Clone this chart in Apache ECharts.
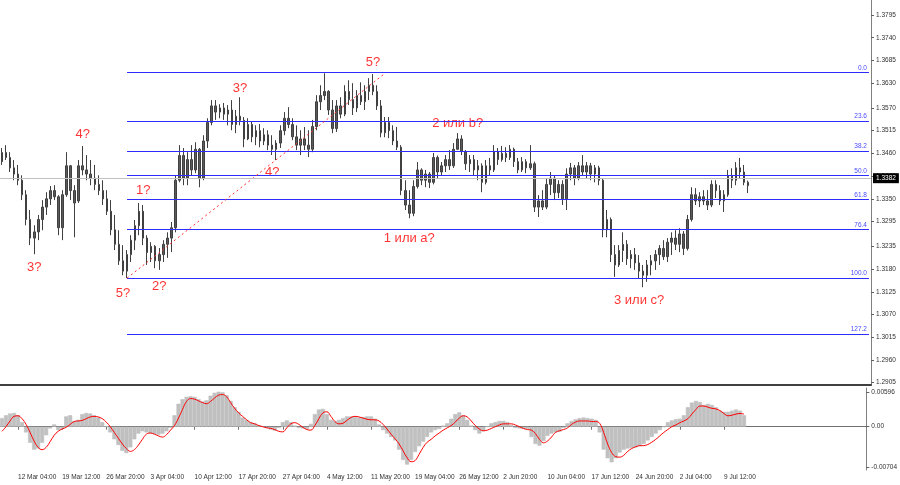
<!DOCTYPE html>
<html lang="ru">
<head>
<meta charset="UTF-8">
<title>GBP/USD H4</title>
<script src="https://cdn.jsdelivr.net/npm/echarts/dist/echarts.min.js"></script>
<style>
    html, body { margin: 0; padding: 0; background: #ffffff; }
    #main { width: 900px; height: 485px; }
</style>
</head>
<body>
<div id="main"></div>
<script>
// 4h bars: [open, close, low, high]
var bars = [
    [1.3440,1.3462,1.3432,1.3473],[1.3462,1.3450,1.3444,1.3480],[1.3450,1.3425,1.3415,1.3463],[1.3425,1.3410,1.3395,1.3444],
    [1.3410,1.3395,1.3383,1.3432],[1.3395,1.3360,1.3347,1.3407],[1.3360,1.3300,1.3286,1.3371],[1.3300,1.3255,1.3238,1.3323],
    [1.3255,1.3270,1.3216,1.3286],[1.3270,1.3300,1.3250,1.3311],[1.3300,1.3330,1.3274,1.3347],[1.3330,1.3350,1.3311,1.3366],
    [1.3350,1.3370,1.3335,1.3381],[1.3370,1.3355,1.3347,1.3383],[1.3355,1.3280,1.3262,1.3359],[1.3280,1.3360,1.3250,1.3371],
    [1.3360,1.3430,1.3355,1.3463],[1.3430,1.3370,1.3347,1.3432],[1.3370,1.3340,1.3257,1.3383],[1.3345,1.3430,1.3340,1.3444],
    [1.3430,1.3420,1.3407,1.3478],[1.3420,1.3410,1.3395,1.3456],[1.3410,1.3400,1.3383,1.3444],[1.3400,1.3385,1.3371,1.3432],
    [1.3385,1.3370,1.3359,1.3407],[1.3370,1.3350,1.3335,1.3395],[1.3350,1.3320,1.3311,1.3371],[1.3320,1.3275,1.3262,1.3347],
    [1.3275,1.3240,1.3226,1.3311],[1.3240,1.3200,1.3190,1.3274],[1.3200,1.3175,1.3165,1.3238],[1.3175,1.3215,1.3158,1.3226],
    [1.3215,1.3250,1.3197,1.3262],[1.3250,1.3285,1.3226,1.3299],[1.3285,1.3320,1.3262,1.3340],[1.3320,1.3255,1.3238,1.3335],
    [1.3255,1.3220,1.3190,1.3262],[1.3220,1.3235,1.3197,1.3245],[1.3235,1.3200,1.3182,1.3238],[1.3200,1.3215,1.3178,1.3231],
    [1.3215,1.3240,1.3197,1.3250],[1.3240,1.3255,1.3207,1.3269],[1.3255,1.3280,1.3221,1.3294],[1.3280,1.3395,1.3269,1.3407],
    [1.3395,1.3455,1.3390,1.3480],[1.3455,1.3400,1.3383,1.3473],[1.3400,1.3445,1.3383,1.3463],[1.3445,1.3420,1.3407,1.3480],
    [1.3420,1.3470,1.3412,1.3487],[1.3470,1.3400,1.3378,1.3473],[1.3400,1.3490,1.3395,1.3504],[1.3490,1.3535,1.3473,1.3545],
    [1.3535,1.3575,1.3528,1.3589],[1.3575,1.3560,1.3541,1.3589],[1.3560,1.3570,1.3545,1.3579],[1.3570,1.3555,1.3541,1.3582],
    [1.3555,1.3565,1.3528,1.3577],[1.3565,1.3530,1.3516,1.3589],[1.3530,1.3550,1.3509,1.3565],[1.3550,1.3540,1.3528,1.3596],
    [1.3540,1.3495,1.3475,1.3548],[1.3495,1.3530,1.3492,1.3545],[1.3530,1.3500,1.3487,1.3536],[1.3500,1.3515,1.3480,1.3528],
    [1.3515,1.3490,1.3475,1.3531],[1.3490,1.3505,1.3480,1.3521],[1.3505,1.3480,1.3468,1.3516],[1.3480,1.3470,1.3456,1.3504],
    [1.3470,1.3485,1.3444,1.3492],[1.3485,1.3515,1.3473,1.3528],[1.3515,1.3545,1.3504,1.3560],[1.3545,1.3530,1.3521,1.3572],
    [1.3530,1.3500,1.3492,1.3545],[1.3500,1.3480,1.3468,1.3528],[1.3480,1.3495,1.3456,1.3516],[1.3495,1.3480,1.3468,1.3524],
    [1.3480,1.3470,1.3451,1.3516],[1.3470,1.3525,1.3463,1.3541],[1.3525,1.3585,1.3516,1.3601],[1.3585,1.3600,1.3565,1.3625],
    [1.3600,1.3610,1.3589,1.3654],[1.3610,1.3565,1.3553,1.3613],[1.3565,1.3520,1.3509,1.3589],[1.3520,1.3575,1.3512,1.3589],
    [1.3575,1.3555,1.3545,1.3596],[1.3555,1.3610,1.3550,1.3625],[1.3610,1.3590,1.3577,1.3637],[1.3590,1.3570,1.3553,1.3630],
    [1.3570,1.3600,1.3560,1.3613],[1.3600,1.3585,1.3577,1.3632],[1.3585,1.3610,1.3565,1.3625],[1.3610,1.3625,1.3589,1.3642],
    [1.3625,1.3610,1.3601,1.3652],[1.3610,1.3575,1.3565,1.3625],[1.3575,1.3510,1.3499,1.3589],[1.3510,1.3535,1.3499,1.3548],
    [1.3535,1.3515,1.3497,1.3548],[1.3515,1.3490,1.3480,1.3528],[1.3490,1.3475,1.3468,1.3524],[1.3475,1.3370,1.3359,1.3480],
    [1.3370,1.3335,1.3323,1.3395],[1.3335,1.3315,1.3303,1.3371],[1.3315,1.3380,1.3308,1.3395],[1.3380,1.3420,1.3375,1.3439],
    [1.3420,1.3395,1.3383,1.3424],[1.3395,1.3410,1.3378,1.3420],[1.3410,1.3390,1.3376,1.3415],[1.3390,1.3450,1.3385,1.3461],
    [1.3450,1.3415,1.3400,1.3455],[1.3415,1.3430,1.3407,1.3439],[1.3430,1.3445,1.3415,1.3456],[1.3445,1.3430,1.3420,1.3468],
    [1.3430,1.3470,1.3425,1.3485],[1.3470,1.3495,1.3468,1.3509],[1.3495,1.3465,1.3456,1.3504],[1.3465,1.3435,1.3420,1.3468],
    [1.3435,1.3445,1.3415,1.3456],[1.3445,1.3420,1.3407,1.3456],[1.3420,1.3430,1.3395,1.3444],[1.3430,1.3390,1.3366,1.3436],
    [1.3390,1.3430,1.3385,1.3444],[1.3430,1.3420,1.3407,1.3449],[1.3420,1.3465,1.3415,1.3480],[1.3465,1.3445,1.3432,1.3473],
    [1.3445,1.3460,1.3440,1.3478],[1.3460,1.3450,1.3439,1.3475],[1.3450,1.3470,1.3444,1.3480],[1.3470,1.3440,1.3427,1.3474],
    [1.3440,1.3420,1.3412,1.3449],[1.3420,1.3440,1.3415,1.3451],[1.3440,1.3425,1.3412,1.3446],[1.3425,1.3435,1.3420,1.3480],
    [1.3435,1.3330,1.3318,1.3440],[1.3330,1.3345,1.3306,1.3359],[1.3345,1.3330,1.3323,1.3371],[1.3330,1.3385,1.3325,1.3400],
    [1.3385,1.3400,1.3359,1.3415],[1.3400,1.3365,1.3347,1.3407],[1.3365,1.3385,1.3352,1.3395],[1.3385,1.3350,1.3335,1.3395],
    [1.3350,1.3410,1.3323,1.3424],[1.3410,1.3425,1.3395,1.3437],[1.3425,1.3400,1.3383,1.3432],[1.3400,1.3430,1.3395,1.3439],
    [1.3430,1.3415,1.3407,1.3456],[1.3415,1.3430,1.3400,1.3439],[1.3430,1.3410,1.3395,1.3437],[1.3410,1.3425,1.3390,1.3432],
    [1.3425,1.3395,1.3383,1.3430],[1.3395,1.3275,1.3257,1.3400],[1.3275,1.3300,1.3257,1.3323],[1.3300,1.3215,1.3197,1.3305],
    [1.3215,1.3190,1.3161,1.3238],[1.3190,1.3225,1.3185,1.3238],[1.3225,1.3240,1.3197,1.3269],[1.3240,1.3205,1.3190,1.3250],
    [1.3205,1.3215,1.3182,1.3226],[1.3215,1.3195,1.3178,1.3231],[1.3195,1.3175,1.3158,1.3214],[1.3175,1.3165,1.3136,1.3190],
    [1.3165,1.3190,1.3149,1.3202],[1.3190,1.3200,1.3165,1.3214],[1.3200,1.3215,1.3178,1.3226],[1.3215,1.3230,1.3190,1.3238],
    [1.3230,1.3210,1.3202,1.3250],[1.3210,1.3245,1.3197,1.3255],[1.3245,1.3255,1.3214,1.3269],[1.3255,1.3240,1.3226,1.3274],
    [1.3240,1.3265,1.3221,1.3279],[1.3265,1.3230,1.3214,1.3272],[1.3230,1.3300,1.3225,1.3311],[1.3300,1.3360,1.3295,1.3378],
    [1.3360,1.3345,1.3335,1.3376],[1.3345,1.3355,1.3330,1.3366],[1.3355,1.3345,1.3335,1.3371],[1.3345,1.3335,1.3323,1.3371],
    [1.3335,1.3385,1.3330,1.3395],[1.3385,1.3370,1.3352,1.3395],[1.3370,1.3345,1.3335,1.3383],[1.3345,1.3360,1.3318,1.3371],
    [1.3360,1.3405,1.3355,1.3420],[1.3405,1.3395,1.3376,1.3424],[1.3395,1.3425,1.3383,1.3439],[1.3425,1.3415,1.3400,1.3449],
    [1.3415,1.3390,1.3383,1.3432],[1.3390,1.3382,1.3364,1.3394]
];

// MACD main (histogram) and signal line
var macd = [
    0.0015,0.0020,0.0023,0.0024,0.0020,0.0008,-0.0010,-0.0028,-0.0040,-0.0038,
    -0.0028,-0.0015,-0.0003,0.0004,-0.0006,-0.0004,0.0018,0.0020,0.0010,0.0012,
    0.0022,0.0024,0.0023,0.0020,0.0016,0.0008,0.0000,-0.0010,-0.0022,-0.0032,
    -0.0042,-0.0046,-0.0036,-0.0022,-0.0012,-0.0008,-0.0010,-0.0012,-0.0013,-0.0014,
    -0.0012,-0.0008,-0.0002,0.0020,0.0040,0.0048,0.0052,0.0053,0.0052,0.0048,
    0.0044,0.0046,0.0054,0.0059,0.0061,0.0060,0.0055,0.0045,0.0034,0.0026,
    0.0016,0.0012,0.0008,0.0006,0.0003,0.0001,-0.0002,-0.0005,-0.0007,-0.0002,
    0.0008,0.0011,0.0008,0.0002,-0.0002,-0.0003,-0.0004,0.0005,0.0022,0.0030,
    0.0031,0.0022,0.0012,0.0010,0.0012,0.0015,0.0018,0.0018,0.0017,0.0016,
    0.0017,0.0018,0.0018,0.0014,0.0004,-0.0006,-0.0012,-0.0018,-0.0024,-0.0040,
    -0.0058,-0.0066,-0.0058,-0.0044,-0.0034,-0.0026,-0.0018,-0.0010,-0.0006,-0.0004,
    0.0002,0.0006,0.0014,0.0022,0.0025,0.0020,0.0012,0.0002,-0.0006,-0.0012,
    -0.0008,0.0000,0.0006,0.0008,0.0010,0.0010,0.0008,0.0003,-0.0002,-0.0003,
    -0.0004,-0.0004,-0.0018,-0.0030,-0.0033,-0.0025,-0.0016,-0.0012,-0.0010,-0.0009,
    -0.0002,0.0006,0.0010,0.0013,0.0015,0.0016,0.0015,0.0014,0.0012,-0.0010,
    -0.0040,-0.0055,-0.0062,-0.0055,-0.0045,-0.0040,-0.0038,-0.0037,-0.0036,-0.0034,
    -0.0030,-0.0024,-0.0018,-0.0012,-0.0006,0.0000,0.0008,0.0011,0.0013,0.0014,
    0.0020,0.0034,0.0042,0.0045,0.0043,0.0038,0.0040,0.0038,0.0034,0.0028,
    0.0026,0.0026,0.0028,0.0030,0.0028,0.0020
];
var signal = [
    -0.0008,0.0000,0.0010,0.0018,0.0019,0.0014,0.0004,-0.0010,-0.0025,-0.0036,
    -0.0040,-0.0036,-0.0026,-0.0015,-0.0008,-0.0004,-0.0001,0.0004,0.0009,0.0010,
    0.0011,0.0014,0.0017,0.0018,0.0017,0.0014,0.0008,0.0000,-0.0010,-0.0020,
    -0.0030,-0.0038,-0.0043,-0.0040,-0.0032,-0.0022,-0.0013,-0.0011,-0.0013,-0.0016,
    -0.0018,-0.0014,-0.0006,0.0002,0.0015,0.0030,0.0044,0.0049,0.0048,0.0045,
    0.0042,0.0040,0.0044,0.0050,0.0055,0.0056,0.0052,0.0042,0.0032,0.0024,
    0.0018,0.0012,0.0007,0.0005,0.0002,0.0000,-0.0002,-0.0003,-0.0005,-0.0008,
    -0.0009,-0.0002,0.0005,0.0007,0.0004,-0.0001,-0.0005,-0.0006,0.0002,0.0014,
    0.0024,0.0026,0.0018,0.0009,0.0005,0.0006,0.0011,0.0016,0.0018,0.0017,
    0.0015,0.0013,0.0012,0.0012,0.0010,0.0004,-0.0004,-0.0013,-0.0021,-0.0030,
    -0.0042,-0.0054,-0.0061,-0.0059,-0.0048,-0.0036,-0.0027,-0.0022,-0.0016,-0.0011,
    -0.0006,-0.0002,0.0002,0.0008,0.0015,0.0019,0.0017,0.0010,0.0002,-0.0004,
    -0.0007,-0.0006,-0.0003,0.0000,0.0003,0.0005,0.0005,0.0005,0.0003,0.0000,
    -0.0003,-0.0005,-0.0006,-0.0012,-0.0022,-0.0028,-0.0025,-0.0018,-0.0010,-0.0007,
    -0.0005,-0.0002,0.0004,0.0008,0.0010,0.0010,0.0010,0.0009,0.0009,0.0006,
    -0.0010,-0.0030,-0.0045,-0.0052,-0.0053,-0.0050,-0.0043,-0.0038,-0.0035,-0.0033,
    -0.0033,-0.0031,-0.0027,-0.0022,-0.0016,-0.0010,-0.0005,0.0000,0.0003,0.0007,
    0.0010,0.0014,0.0022,0.0030,0.0036,0.0036,0.0034,0.0032,0.0031,0.0028,
    0.0023,0.0019,0.0020,0.0022,0.0023,0.0022
];

// axis labels
var priceTicks = [1.2905, 1.2960, 1.3015, 1.3070, 1.3125, 1.3180, 1.3235, 1.3295, 1.3350,
                  1.3405, 1.3460, 1.3515, 1.3570, 1.3630, 1.3685, 1.3740, 1.3795];
var macdTicks = [-0.00704, 0, 0.00596];
var xLabels = ['12 Mar 04:00', '19 Mar 12:00', '26 Mar 20:00', '3 Apr 04:00', '10 Apr 12:00',
               '17 Apr 20:00', '27 Apr 04:00', '4 May 12:00', '11 May 20:00', '19 May 04:00',
               '26 May 12:00', '2 Jun 20:00', '10 Jun 04:00', '17 Jun 12:00', '24 Jun 20:00',
               '2 Jul 04:00', '9 Jul 12:00'];
var xLabelBars = [4, 15, 26, 37, 48, 59, 70, 81, 92, 103, 114, 125, 136, 147, 158, 169, 180];

// fibonacci grid
var fibNames = ['0.0', '23.6', '38.2', '50.0', '61.8', '76.4', '100.0', '127.2'];
var fibPrices = [1.3656, 1.3538, 1.3466, 1.3407, 1.3348, 1.3276, 1.3158, 1.3023];
var fibStartBar = 31;

var trendLine = [[31, 1.3158], [95, 1.3654]];
var lastPrice = 1.3382;

// wave marks: text, bar, price
var waveLabels = [
    ['3?', 8, 1.3185], ['4?', 20, 1.3507], ['5?', 30, 1.3122], ['1?', 35, 1.3371],
    ['2?', 39, 1.3139], ['3?', 59, 1.3618], ['4?', 67, 1.3415], ['5?', 92, 1.3681],
    ['1 или a?', 101, 1.3255], ['2 или b?', 113, 1.3533], ['3 или c?', 158, 1.3105]
];

var totalBars = 216;
var cats = [];
for (var i = 0; i < totalBars; i++) cats.push(String(i));
var labelAt = {};
xLabelBars.forEach(function (b, k) { labelAt[b] = xLabels[k]; });

var chart = echarts.init(document.getElementById('main'), null, {renderer: 'canvas'});

var smallFont = {fontSize: 6.5, fontFamily: 'Liberation Sans', color: '#303030'};

var fibLines = fibPrices.map(function (p, k) {
    return [
        {coord: [fibStartBar, p], label: {formatter: fibNames[k]}},
        {coord: [totalBars - 1, p]}
    ];
});

chart.setOption({
    animation: false,
    backgroundColor: '#ffffff',
    grid: [
        {left: 0, right: 29, top: 0, height: 385},
        {left: 0, right: 29, top: 388, height: 82}
    ],
    xAxis: [
        {
            type: 'category', gridIndex: 0, data: cats,
            axisLine: {show: true, lineStyle: {color: '#404040', width: 2}},
            axisTick: {show: false}, axisLabel: {show: false}, splitLine: {show: false}
        },
        {
            type: 'category', gridIndex: 1, data: cats,
            axisLine: {show: true, lineStyle: {color: '#707070', width: 1}},
            axisTick: {
                show: true, alignWithLabel: true, length: 3,
                interval: function (idx) { return labelAt[idx] !== undefined; },
                lineStyle: {color: '#707070'}
            },
            axisLabel: Object.assign({
                interval: function (idx) { return labelAt[idx] !== undefined; },
                formatter: function (v, idx) { return labelAt[idx] || ''; },
                align: 'left', margin: 4
            }, smallFont),
            splitLine: {show: false}
        }
    ],
    yAxis: [
        {
            type: 'value', gridIndex: 0, position: 'right',
            min: 1.28994, max: 1.38313, scale: true,
            axisLine: {show: true, lineStyle: {color: '#808080', width: 1}},
            axisTick: {show: true, customValues: priceTicks, length: 3, lineStyle: {color: '#606060'}},
            axisLabel: Object.assign({
                customValues: priceTicks, margin: 5,
                formatter: function (v) { return v.toFixed(4); }
            }, smallFont),
            splitLine: {show: false}
        },
        {
            type: 'value', gridIndex: 1, position: 'right',
            min: -0.00754, max: 0.00674,
            axisLine: {show: true, lineStyle: {color: '#808080', width: 1}},
            axisTick: {show: true, customValues: macdTicks, length: 3, lineStyle: {color: '#606060'}},
            axisLabel: Object.assign({
                customValues: macdTicks, margin: 5,
                formatter: function (v) { return v === 0 ? '0.00' : v.toFixed(5); }
            }, smallFont),
            splitLine: {show: false}
        }
    ],
    series: [
        {
            type: 'candlestick', xAxisIndex: 0, yAxisIndex: 0,
            data: bars, barWidth: 2,
            itemStyle: {
                color: '#5a5a5a', color0: '#5a5a5a',
                borderColor: '#404040', borderColor0: '#404040', borderWidth: 1
            },
            markLine: {
                silent: true, symbol: ['none', 'none'], animation: false,
                lineStyle: {color: '#2d2dff', width: 1, type: 'solid'},
                label: {
                    show: true, position: 'insideEndTop', distance: [2, 1],
                    fontSize: 6.5, fontFamily: 'Liberation Sans', color: '#4a4aff'
                },
                data: fibLines.concat([
                    [
                        {coord: trendLine[0], lineStyle: {color: '#ff3030', width: 1, type: [2, 3]}, label: {show: false}},
                        {coord: trendLine[1]}
                    ],
                    {
                        yAxis: lastPrice,
                        lineStyle: {color: '#c0c0c0', width: 1, type: 'solid'},
                        label: {
                            show: true, position: 'end', distance: 2,
                            formatter: lastPrice.toFixed(4),
                            backgroundColor: '#000000', color: '#ffffff',
                            padding: [2, 3, 1, 3], fontSize: 6.5, fontFamily: 'Liberation Sans'
                        }
                    }
                ])
            }
        },
        {
            type: 'scatter', xAxisIndex: 0, yAxisIndex: 0,
            symbolSize: 1, itemStyle: {color: 'rgba(0,0,0,0)'}, silent: true,
            data: waveLabels.map(function (w) {
                return {value: [w[1], w[2]], label: {formatter: w[0]}};
            }),
            label: {
                show: true, position: 'inside',
                fontSize: 13, fontFamily: 'Liberation Sans', color: '#ff0000'
            }
        },
        {
            type: 'bar', xAxisIndex: 1, yAxisIndex: 1,
            data: macd, barCategoryGap: '0%',
            itemStyle: {color: '#c0c0c0', borderColor: '#c0c0c0', borderWidth: 0.6}
        },
        {
            type: 'line', xAxisIndex: 1, yAxisIndex: 1,
            data: signal, symbol: 'none', smooth: 0.4,
            lineStyle: {color: '#ff0000', width: 1}
        }
    ]
});
</script>
</body>
</html>
